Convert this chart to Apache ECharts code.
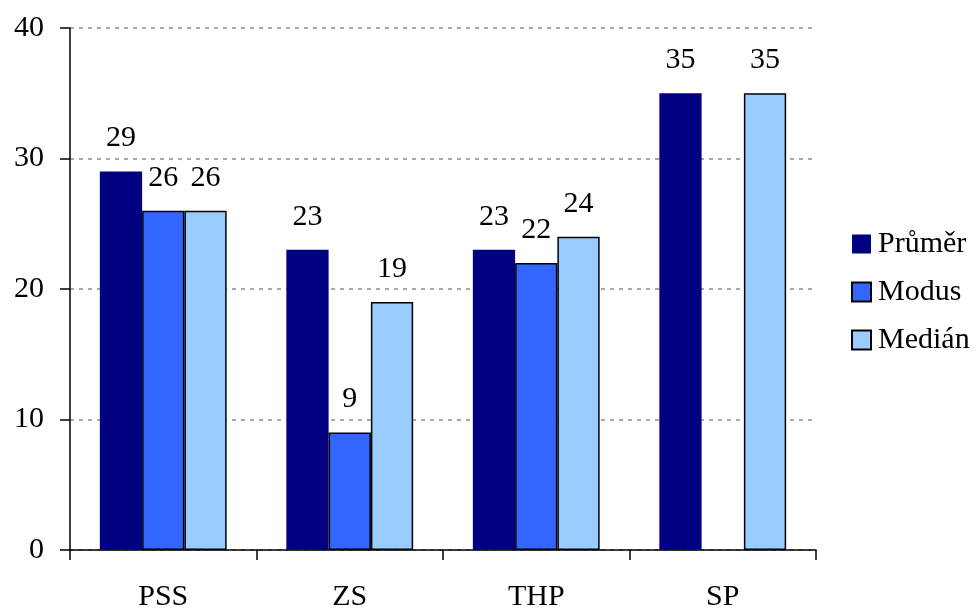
<!DOCTYPE html>
<html>
<head>
<meta charset="utf-8">
<script src="https://cdn.jsdelivr.net/npm/echarts@6/dist/echarts.min.js"></script>
<style>
  html, body { margin: 0; padding: 0; background: #fff; }
  #chart { width: 976px; height: 612px; }
</style>
</head>
<body>
<div id="chart"></div>
<script>
// Categories and series values
const categories = ['PSS', 'ZS', 'THP', 'SP'];
const prumer = [29, 23, 23, 35];
const modus = [26, 9, 22, null];
const median = [26, 19, 24, 35];
const yTicks = { min: 0, max: 40, interval: 10 };

const font = '"Liberation Serif", "Times New Roman", serif';
const fontSize = 30;

function barSeries(name, data, color, bordered) {
  return {
    name: name,
    type: 'bar',
    data: data,
    barGap: '0%',
    barCategoryGap: '32%',
    itemStyle: {
      color: color,
      borderColor: bordered ? '#000' : color,
      borderWidth: bordered ? 1.5 : 0
    },
    label: {
      show: true,
      position: 'top',
      distance: 18,
      color: '#000',
      fontFamily: font,
      fontSize: fontSize
    }
  };
}

const chart = echarts.init(document.getElementById('chart'));
chart.setOption({
  animation: false,
  backgroundColor: '#fff',
  grid: { left: 70, right: 160, top: 28, bottom: 62, containLabel: false },
  legend: {
    orient: 'vertical',
    left: 846,
    top: 224,
    itemWidth: 19,
    itemHeight: 19,
    itemGap: 18,
    textStyle: { fontFamily: font, fontSize: fontSize, color: '#000', padding: [0, 0, 0, 2] },
    data: [
      { name: 'Průměr', icon: 'rect', itemStyle: { borderWidth: 0 } },
      { name: 'Modus', icon: 'rect' },
      { name: 'Medián', icon: 'rect' }
    ]
  },
  xAxis: {
    type: 'category',
    data: categories,
    axisLine: { lineStyle: { color: '#000', width: 1.5 } },
    axisTick: { show: true, length: 10, lineStyle: { color: '#000', width: 1.5 } },
    axisLabel: { fontFamily: font, fontSize: fontSize, color: '#000', margin: 32 },
    splitLine: { show: false }
  },
  yAxis: {
    type: 'value',
    min: yTicks.min,
    max: yTicks.max,
    interval: yTicks.interval,
    axisLine: { show: true, lineStyle: { color: '#000', width: 1.5 } },
    axisTick: { show: true, length: 10, lineStyle: { color: '#000', width: 1.5 } },
    axisLabel: { fontFamily: font, fontSize: fontSize, color: '#000', margin: 26 },
    splitLine: {
      show: true,
      lineStyle: { color: '#8c8c8c', type: [4, 5], width: 1.5 }
    }
  },
  series: [
    barSeries('Průměr', prumer, '#000080', false),
    barSeries('Modus', modus, '#3366ff', true),
    barSeries('Medián', median, '#99ccff', true)
  ]
});
</script>
</body>
</html>
